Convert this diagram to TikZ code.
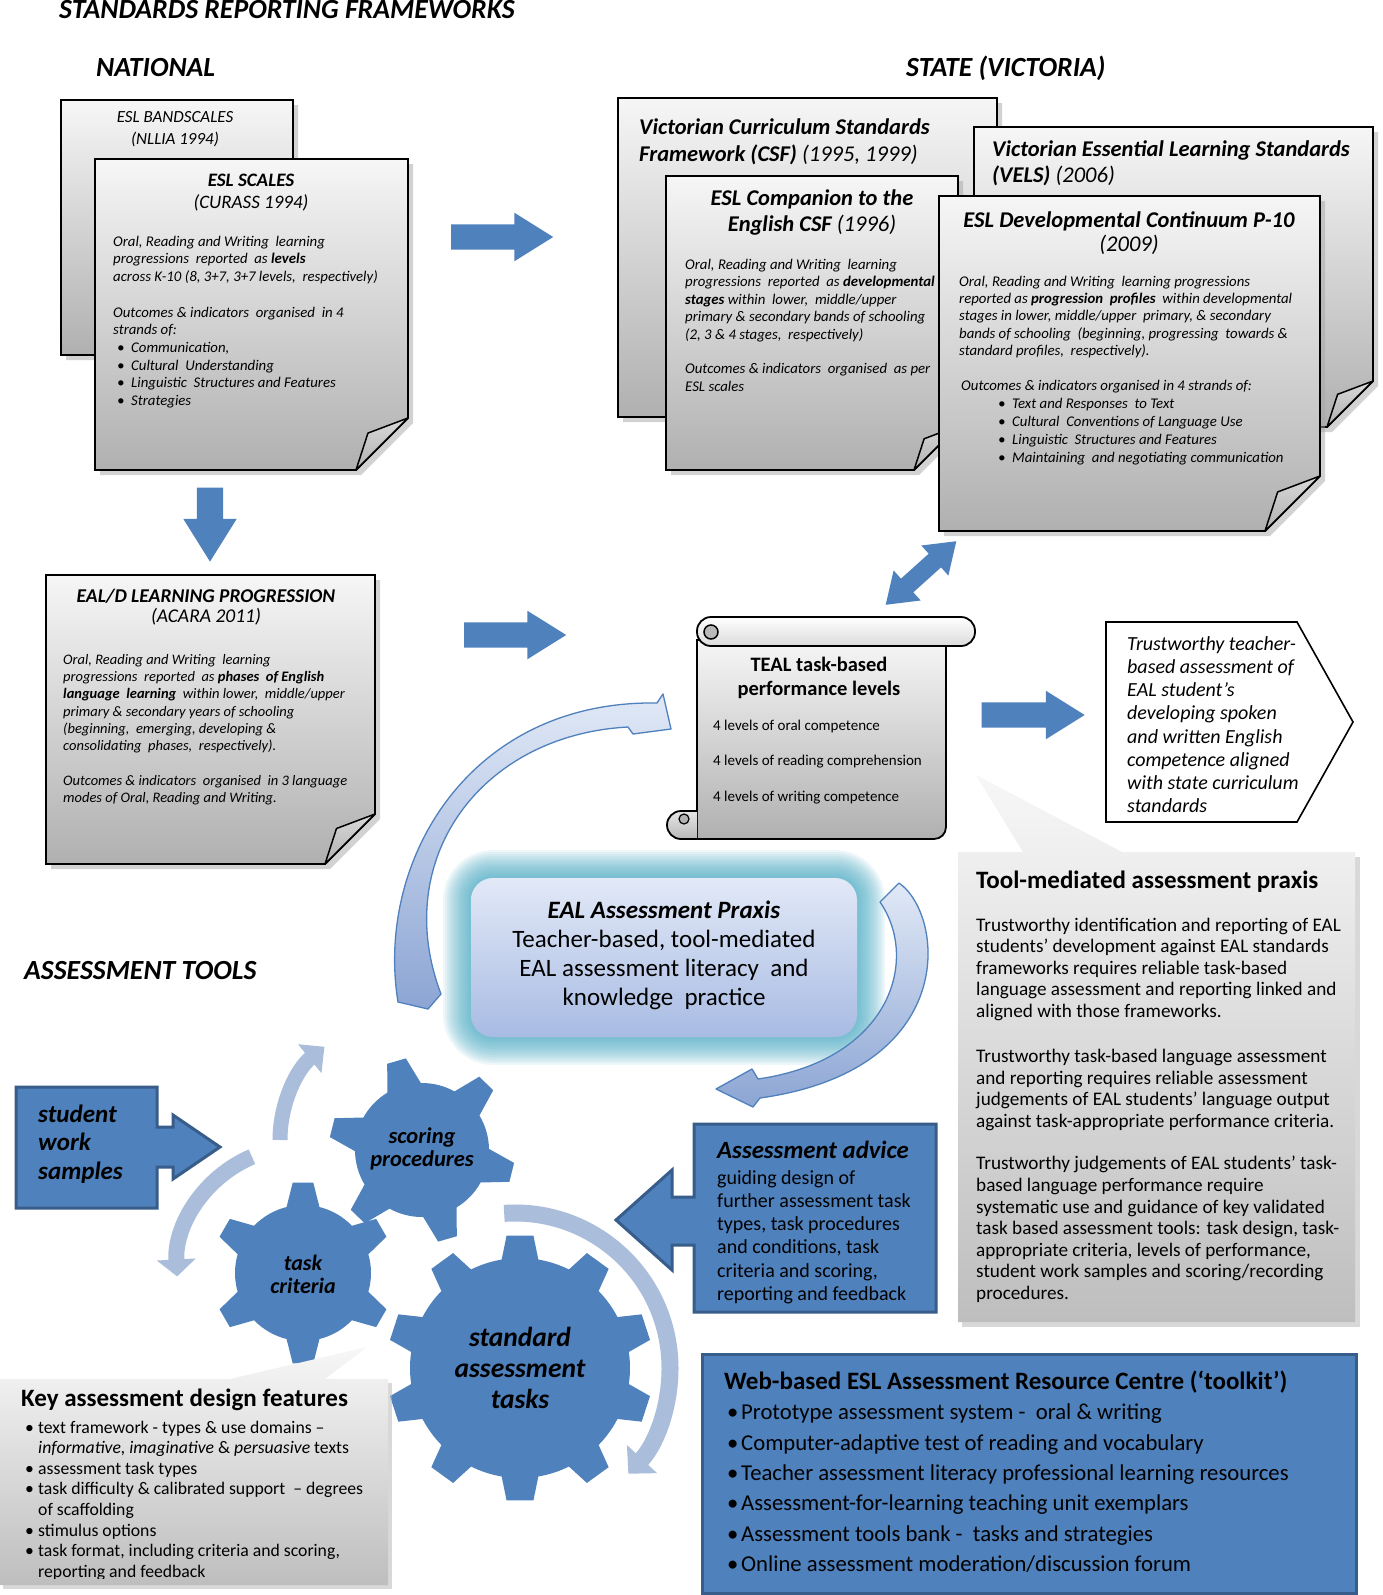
\documentclass[tikz,border=0pt]{standalone}
\usepackage{fontspec}
\setmainfont{Carlito}
\usetikzlibrary{shapes.arrows,arrows.meta,calc}
\definecolor{gblue}{RGB}{79,129,189}
\definecolor{dblue}{RGB}{56,93,138}
\definecolor{lblue}{RGB}{170,189,219}
\definecolor{docTop}{RGB}{246,246,246}
\definecolor{docBot}{RGB}{176,176,176}
\definecolor{glowc}{RGB}{75,172,198}
\definecolor{praxTop}{RGB}{226,233,247}
\definecolor{praxBot}{RGB}{168,187,227}
\definecolor{calTop}{RGB}{247,247,247}
\definecolor{calBot}{RGB}{190,190,190}
\definecolor{arcTop}{RGB}{225,233,246}
\definecolor{arcBot}{RGB}{140,165,212}
\newcommand\fsz[2]{\fontsize{#1}{#2}\selectfont}
\newcommand\bull[2]{\hspace*{#1}\makebox[#2][l]{\textbullet}}
\newcommand\docpage[5]{%
 \fill[black!35, opacity=0.5] ({#1+5},{#2+5}) -- ({#3+5},{#2+5}) -- ({#3+5},{#4+5-#5}) -- ({#3+5-#5},{#4+5}) -- ({#1+5},{#4+5}) -- cycle;
 \shadedraw[top color=docTop, bottom color=docBot, line width=1.8pt, line join=miter] (#1,#2) -- (#3,#2) -- (#3,{#4-#5}) -- ({#3-#5},#4) -- (#1,#4) -- cycle;
 \shadedraw[top color=gray!30, bottom color=gray!62, line width=1.5pt, line join=round] ({#3-#5},#4) -- ({#3-0.77*#5},{#4-0.71*#5}) -- (#3,{#4-#5}) -- cycle;}
\newcommand\gearshape[8]{%
 \begin{scope}[shift={(#1,#2)}, x=1pt, y=1pt]
 \fill[gblue] ({#6-#7}:#3) \foreach \k in {1,...,#5}{ -- ({#6+360*(\k-1)/#5-#7}:#3) -- ({#6+360*(\k-1)/#5-#8}:#4) -- ({#6+360*(\k-1)/#5+#8}:#4) -- ({#6+360*(\k-1)/#5+#7}:#3) arc[start angle={#6+360*(\k-1)/#5+#7}, end angle={#6+360*\k/#5-#7}, radius=#3pt]} -- cycle;
 \end{scope}}
\begin{document}
\begin{tikzpicture}[x=1pt,y=-1pt,
 txt/.style={inner sep=0pt, align=left, anchor=north west},
 lbl/.style={inner sep=0pt, anchor=west},
 ctr/.style={inner sep=0pt, align=center},
 blockarrow/.style={single arrow, fill=gblue, draw=none, inner xsep=0pt, inner ysep=12.5pt, single arrow head extend=11.5pt, single arrow tip angle=64, minimum height=102pt},
 praxarrow/.style={top color=arcTop, bottom color=arcBot, draw=gblue, line width=1.3pt, line join=round},
 gearcurve/.style={lblue, line width=16pt},
 bluebox/.style={fill=gblue, draw=dblue, line width=3pt, line join=miter},
 heading/.style={inner sep=0pt, anchor=west, font=\fsz{27.7}{30}\bfseries\itshape}]
\useasboundingbox (0,0) rectangle (1382,1595);
\fill[white] (0,0) rectangle (1382,1595);
% headings
\node[heading] (title) at (59,10) {STANDARDS REPORTING FRAMEWORKS};
\node[heading] (nat) at (96,68) {NATIONAL};
\node[heading] (state) at (906,68) {STATE (VICTORIA)};
% national documents
\docpage{61}{100}{293}{355}{30}
\node[ctr, font=\fsz{17}{22}\itshape] (band) at (175,129) {ESL BANDSCALES\\(NLLIA 1994)};
\docpage{95}{159}{408}{470}{52}
\node[ctr, font=\fsz{19}{22}\itshape] (scales) at (251,193) {\textbf{ESL SCALES}\\(CURASS 1994)};
\node[txt, font=\fsz{14.8}{17.7}\itshape] (scalesbody) at (113,235.8) {%
Oral, Reading and Writing\ \ learning\\
progressions\ \ reported\ \ as \textbf{levels}\\
across K-10 (8, 3+7, 3+7 levels,\ \ respectively)\\[17.7pt]
Outcomes \& indicators\ \ organised\ \ in 4\\
strands of:\\
\bull{4pt}{14pt}Communication,\\
\bull{4pt}{14pt}Cultural\ \ Understanding\\
\bull{4pt}{14pt}Linguistic\ \ Structures and Features\\
\bull{4pt}{14pt}Strategies};
\node[blockarrow, inner ysep=13pt, single arrow head extend=13.5pt, minimum height=74pt, rotate=-90] (down) at (210,514) {};
\docpage{46}{575}{375}{864}{50}
\node[ctr, font=\fsz{19.5}{20}\itshape] (eald) at (206,607) {\textbf{EAL/D LEARNING PROGRESSION}\\(ACARA 2011)};
\node[txt, font=\fsz{14.5}{17.3}\itshape] (ealdbody) at (63,653.9) {%
Oral, Reading and Writing\ \ learning\\
progressions\ \ reported\ \ as \textbf{phases\ \ of English}\\
\textbf{language\ \ learning}\ \ within lower,\ \ middle/upper\\
primary \& secondary years of schooling\\
(beginning,\ \ emerging, developing \&\\
consolidating\ \ phases,\ \ respectively).\\[17.3pt]
Outcomes \& indicators\ \ organised\ \ in 3 language\\
modes of Oral, Reading and Writing.};
\node[blockarrow] (a1) at (492,237) {};
\node[blockarrow] (a2) at (505,635) {};
% state documents
\docpage{618}{98}{997}{417}{40}
\node[txt, font=\fsz{22.5}{26.5}\itshape] (csf) at (639,119) {\textbf{Victorian Curriculum Standards}\\\textbf{Framework (CSF)} (1995, 1999)};
\docpage{666}{176}{958}{470}{44}
\node[ctr, font=\fsz{22.5}{26.5}\itshape] (comp) at (812,212.5) {\textbf{ESL Companion to the}\\\textbf{English CSF} (1996)};
\node[txt, font=\fsz{14.8}{17.5}\itshape] (compbody) at (685,258.8) {%
Oral, Reading and Writing\ \ learning\\
progressions\ \ reported\ \ as \textbf{developmental}\\
\textbf{stages} within\ \ lower,\ \ middle/upper\\
primary \& secondary bands of schooling\\
(2, 3 \& 4 stages,\ \ respectively)\\[17pt]
Outcomes \& indicators\ \ organised\ \ as per\\
ESL scales};
\docpage{974}{127}{1373}{427}{46}
\node[txt, font=\fsz{22.5}{26}\itshape] (vels) at (992,141) {\textbf{Victorian Essential Learning Standards}\\\textbf{(VELS)} (2006)};
\docpage{939}{196}{1320}{531}{55}
\node[ctr, font=\fsz{22.5}{24}\itshape] (dev) at (1129,233) {\textbf{ESL Developmental Continuum P-10}\\(2009)};
\node[txt, font=\fsz{14.8}{17.3}\itshape] (devbody) at (959,275.8) {%
Oral, Reading and Writing\ \ learning progressions\\
reported as \textbf{progression\ \ profiles}\ \ within developmental\\
stages in lower, middle/upper\ \ primary, \& secondary\\
bands of schooling\ \ (beginning, progressing\ \ towards \&\\
standard profiles,\ \ respectively).\\[18pt]
\hspace*{2pt}Outcomes \& indicators organised in 4 strands of:\\
\bull{39pt}{14pt}Text and Responses\ \ to Text\\[0.8pt]
\bull{39pt}{14pt}Cultural\ \ Conventions of Language Use\\[0.8pt]
\bull{39pt}{14pt}Linguistic\ \ Structures and Features\\[0.8pt]
\bull{39pt}{14pt}Maintaining\ \ and negotiating communication};
\node[double arrow, fill=gblue, inner xsep=0pt, inner ysep=9pt, double arrow head extend=11pt, double arrow tip angle=70, minimum height=95pt, rotate=42] (dbl) at (921,573) {};
% scroll
\shadedraw[top color=docTop, bottom color=docBot, line width=1.8pt] (697,640) -- (697,839) -- (934,839) to[out=0,in=-90] (946,827) -- (946,640) -- cycle;
\shadedraw[top color=white, bottom color=gray!28, line width=1.8pt, rounded corners=14pt] (697,617) rectangle (975,646);
\filldraw[fill=gray!55, line width=1.5pt] (711,632) circle (7pt);
\shadedraw[top color=gray!20, bottom color=gray!55, line width=1.8pt] (697,811) -- (681,811) arc[start angle=90, end angle=270, radius=14pt] -- (697,839);
\filldraw[fill=gray!60, line width=1.2pt] (684,819) circle (5pt);
\node[ctr, font=\fsz{20.5}{24}\bfseries] (teal) at (819,678) {TEAL task-based\\performance levels};
\node[txt, font=\fsz{15}{35.5}] (tealitems) at (713,719.7) {4 levels of oral competence\\4 levels of reading comprehension\\4 levels of writing competence};
\node[blockarrow, minimum height=103pt] (a3) at (1023,715) {};
% outcome pentagon
\filldraw[fill=white, line width=1.6pt] (1106,622) -- (1297,622) -- (1353,722) -- (1297,822) -- (1106,822) -- cycle;
\begin{scope}
\clip (1106,622) rectangle (1300,814);
\node[txt, font=\fsz{20}{23.1}\itshape] (trust) at (1127,636.6) {Trustworthy teacher-\\based assessment of\\EAL student’s\\developing spoken\\and written English\\competence aligned\\with state curriculum\\standards};
\end{scope}
% tool-mediated callout
\fill[black!30, opacity=0.5] (962,857) rectangle (1360,1327);
\shade[top color=calTop, bottom color=calBot] (958,852) -- (1023,852) -- (976,775) -- (1122,852) -- (1355,852) -- (1355,1322) -- (958,1322) -- cycle;
\node[lbl, font=\fsz{25}{28}\bfseries] (toolttl) at (976,882) {Tool-mediated assessment praxis};
\node[txt, font=\fsz{19.2}{21.6}] (toolbody) at (976,917.5) {%
Trustworthy identification and reporting of EAL\\
students’ development against EAL standards\\
frameworks requires reliable task-based\\
language assessment and reporting linked and\\
aligned with those frameworks.\\[23.5pt]
Trustworthy task-based language assessment\\
and reporting requires reliable assessment\\
judgements of EAL students’ language output\\
against task-appropriate performance criteria.\\[21pt]
Trustworthy judgements of EAL students’ task-\\
based language performance require\\
systematic use and guidance of key validated\\
task based assessment tools: task design, task-\\
appropriate criteria, levels of performance,\\
student work samples and scoring/recording\\
procedures.};
% praxis
\foreach \k in {1,...,14}{
 \fill[glowc, opacity=0.085, rounded corners={(22+2*\k)*1pt}] ({471-2*\k},{878-2*\k}) rectangle ({857+2*\k},{1037+2*\k});
}
\shadedraw[praxarrow] (398,1002) .. controls (375,860) and (470,700) .. (657,703) -- (663,694) -- (671,729) -- (633,734) -- (628,727) .. controls (480,735) and (390,860) .. (441,994) -- (428,1009) -- cycle;
\shadedraw[praxarrow] (899,883) .. controls (945,915) and (960,1070) .. (760,1098) -- (753,1107) -- (716,1089) -- (752,1069) -- (758,1079) .. controls (890,1060) and (920,960) .. (880,902) -- cycle;
\shade[rounded corners=22pt, top color=praxTop, bottom color=praxBot] (471,878) rectangle (857,1037);
\node[ctr, font=\fsz{25}{29}] (praxis) at (664,955) {\textbf{\textit{EAL Assessment Praxis}}\\Teacher-based, tool-mediated\\EAL assessment literacy\ \ and\\knowledge\ \ practice};
% assessment tools
\node[heading] (tools) at (24,971) {ASSESSMENT TOOLS};
\begin{scope}[shift={(400,1140)}, x=1pt, y=1pt]
\draw[gearcurve, line width=15pt, -{Triangle[length=19pt,width=36pt]}] (180:120pt) arc[start angle=180, end angle=129, radius=120pt];
\end{scope}
\begin{scope}[shift={(300,1270)}, x=1pt, y=1pt]
\draw[gearcurve, line width=16pt, -{Triangle[length=17pt,width=38pt]}] (113:123pt) arc[start angle=113, end angle=183, radius=123pt];
\end{scope}
\begin{scope}[shift={(515,1368)}, x=1pt, y=1pt]
\draw[gearcurve, line width=17pt, -{Triangle[length=20pt,width=40pt]}] (94:155pt) arc[start angle=94, end angle=-43, radius=155pt];
\end{scope}
\gearshape{422}{1150}{67}{93}{6}{106}{15}{6}
\gearshape{303}{1273}{68}{91}{6}{90}{14}{6.5}
\gearshape{520}{1368}{110}{133}{10}{90}{9.6}{5.8}
\node[ctr, font=\fsz{22.5}{23}\bfseries\itshape] (scoring) at (422,1149) {scoring\\procedures};
\node[ctr, font=\fsz{22}{23}\bfseries\itshape] (criteria) at (303,1274) {task\\criteria};
\node[ctr, font=\fsz{27.5}{31}\bfseries\itshape] (standard) at (520,1368) {standard\\assessment\\tasks};
% student work samples
\filldraw[bluebox] (16,1087) -- (157,1087) -- (157,1127) -- (173,1127) -- (173,1115) -- (220,1147) -- (173,1179) -- (173,1167) -- (157,1167) -- (157,1208) -- (16,1208) -- cycle;
\node[txt, font=\fsz{25}{28.5}\bfseries\itshape] (student) at (38,1104.5) {student\\work\\samples};
% assessment advice
\filldraw[bluebox] (694,1124) -- (936,1124) -- (936,1312) -- (694,1312) -- (694,1245) -- (672,1245) -- (672,1270) -- (616,1220) -- (672,1170) -- (672,1197) -- (694,1197) -- cycle;
\node[txt, font=\fsz{20}{23.3}] (advice) at (717,1140.6) {{\fsz{24.8}{23.3}\bfseries\itshape Assessment advice}\\[2.5pt]guiding design of\\further assessment task\\types, task procedures\\and conditions, task\\criteria and scoring,\\reporting and feedback};
% key features callout
\fill[black!30, opacity=0.5] (3,1383) rectangle (392,1589);
\shade[top color=calTop, bottom color=calBot] (0,1379) -- (230,1379) -- (367,1347) -- (325,1379) -- (388,1379) -- (388,1585) -- (0,1585) -- cycle;
\node[lbl, font=\fsz{25}{28}\bfseries] (keyttl) at (21,1400) {Key assessment design features};
\begin{scope}
\clip (0,1379) rectangle (388,1578);
\node[txt, font=\fsz{17.7}{20.6}] (keybody) at (25,1420.6) {%
\bull{0pt}{13pt}text framework - types \& use domains –\\
\hspace*{13pt}\textit{informative, imaginative} \& \textit{persuasive} texts\\
\bull{0pt}{13pt}assessment task types\\
\bull{0pt}{13pt}task difficulty \& calibrated support\ \ – degrees\\
\hspace*{13pt}of scaffolding\\
\bull{0pt}{13pt}stimulus options\\
\bull{0pt}{13pt}task format, including criteria and scoring,\\
\hspace*{13pt}reporting and feedback};
\end{scope}
% web-based toolkit
\filldraw[bluebox] (702,1354) rectangle (1356,1593);
\node[txt, font=\fsz{22.7}{30.4}] (web) at (724,1370.5) {{\fsz{25}{30.4}\bfseries Web-based ESL Assessment Resource Centre (‘toolkit’)}\\
\bull{3pt}{14pt}Prototype assessment system -\ \ oral \& writing\\
\bull{3pt}{14pt}Computer-adaptive test of reading and vocabulary\\
\bull{3pt}{14pt}Teacher assessment literacy professional learning resources\\
\bull{3pt}{14pt}Assessment-for-learning teaching unit exemplars\\
\bull{3pt}{14pt}Assessment tools bank -\ \ tasks and strategies\\
\bull{3pt}{14pt}Online assessment moderation/discussion forum};
\end{tikzpicture}
\end{document}
